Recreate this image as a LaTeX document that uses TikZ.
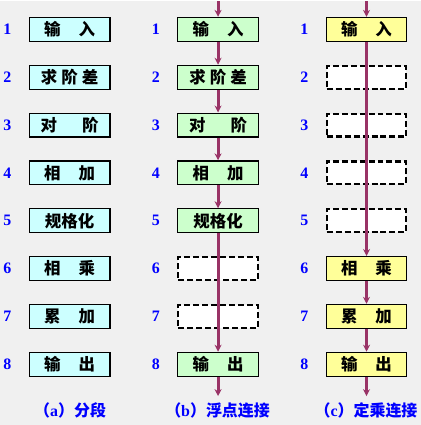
\documentclass[tikz,border=0pt]{standalone}
\usepackage{fontspec}
\setmainfont{Liberation Serif}
\newfontfamily\cjk{Noto Sans CJK SC}
\usetikzlibrary{arrows.meta}
\definecolor{bg}{HTML}{F0F0F0}
\definecolor{flow}{HTML}{993366}
\definecolor{segfill}{HTML}{CCFFFF}
\definecolor{fpfill}{HTML}{CCFFCC}
\definecolor{fixfill}{HTML}{FFFF99}

\begin{document}
\begin{tikzpicture}[x=1pt, y=-1pt, >={Stealth[length=7pt,width=7pt]},
    stage/.style={draw, line width=1.2pt, minimum width=81pt, minimum height=24pt, inner sep=0pt, font=\cjk\bfseries\fontsize{16.5}{16.5}\selectfont},
    idle/.style={draw, line width=2.2pt, dash pattern=on 6pt off 3pt, fill=white, minimum width=80pt, minimum height=23pt},
    num/.style={text=blue, font=\bfseries\fontsize{16}{16}\selectfont},
    caption/.style={text=blue, font=\bfseries\fontsize{16}{16}\selectfont},
    flowline/.style={->, flow, line width=3pt}]
        \fill[bg] (0,0) rectangle (422,425);

        % (a) segments
        \node[num] (anum1) at (7,28) {1};
        \node[num] (anum2) at (7,76) {2};
        \node[num] (anum3) at (7,124) {3};
        \node[num] (anum4) at (7,172) {4};
        \node[num] (anum5) at (7,220) {5};
        \node[num] (anum6) at (7,268) {6};
        \node[num] (anum7) at (7,316) {7};
        \node[num] (anum8) at (7,364) {8};
        \node[stage, fill=segfill] (a1) at (69.5,28) {输\hspace{18pt}入};
        \node[stage, fill=segfill] (a2) at (69.5,76) {求\hspace{4pt}阶\hspace{4pt}差};
        \node[stage, fill=segfill] (a3) at (69.5,124) {对\hspace{25pt}阶};
        \node[stage, fill=segfill] (a4) at (69.5,172) {相\hspace{18pt}加};
        \node[stage, fill=segfill] (a5) at (69.5,220) {规格化};
        \node[stage, fill=segfill] (a6) at (69.5,268) {相\hspace{18pt}乘};
        \node[stage, fill=segfill] (a7) at (69.5,316) {累\hspace{18pt}加};
        \node[stage, fill=segfill] (a8) at (69.5,364) {输\hspace{18pt}出};
        \node[caption] (capa) at (70,410) {{\cjk （}a{\cjk ）分段}};

        % (b) floating-point chain
        \node[num] (bnum1) at (156,28) {1};
        \node[num] (bnum2) at (156,76) {2};
        \node[num] (bnum3) at (156,124) {3};
        \node[num] (bnum4) at (156,172) {4};
        \node[num] (bnum5) at (156,220) {5};
        \node[num] (bnum6) at (156,268) {6};
        \node[num] (bnum7) at (156,316) {7};
        \node[num] (bnum8) at (156,364) {8};
        \node[stage, fill=fpfill] (b1) at (218.5,28) {输\hspace{18pt}入};
        \node[stage, fill=fpfill] (b2) at (218.5,76) {求\hspace{4pt}阶\hspace{4pt}差};
        \node[stage, fill=fpfill] (b3) at (218.5,124) {对\hspace{25pt}阶};
        \node[stage, fill=fpfill] (b4) at (218.5,172) {相\hspace{18pt}加};
        \node[stage, fill=fpfill] (b5) at (218.5,220) {规格化};
        \node[idle] (b6) at (218.5,268) {};
        \node[idle] (b7) at (218.5,316) {};
        \node[stage, fill=fpfill] (b8) at (218.5,364) {输\hspace{18pt}出};
        \node[caption] (capb) at (218,410) {{\cjk （}b{\cjk ）浮点连接}};
        \coordinate (btop) at (218.5,0);
        \coordinate (bend) at (218.5,396);
        \draw[flowline] (btop) -- (b1.north);
        \draw[flowline] (b1) -- (b2);
        \draw[flowline] (b2) -- (b3);
        \draw[flowline] (b3) -- (b4);
        \draw[flowline] (b4) -- (b5);
        \draw[flowline] (b5.south) -- (b8.north);
        \draw[flowline] (b8) -- (bend);

        % (c) fixed-point multiply chain
        \node[num] (cnum1) at (305,28) {1};
        \node[num] (cnum2) at (305,76) {2};
        \node[num] (cnum3) at (305,124) {3};
        \node[num] (cnum4) at (305,172) {4};
        \node[num] (cnum5) at (305,220) {5};
        \node[num] (cnum6) at (305,268) {6};
        \node[num] (cnum7) at (305,316) {7};
        \node[num] (cnum8) at (305,364) {8};
        \node[stage, fill=fixfill] (c1) at (367.5,28) {输\hspace{18pt}入};
        \node[idle] (c2) at (367.5,76) {};
        \node[idle] (c3) at (367.5,124) {};
        \node[idle] (c4) at (367.5,172) {};
        \node[idle] (c5) at (367.5,220) {};
        \node[stage, fill=fixfill] (c6) at (367.5,268) {相\hspace{18pt}乘};
        \node[stage, fill=fixfill] (c7) at (367.5,316) {累\hspace{18pt}加};
        \node[stage, fill=fixfill] (c8) at (367.5,364) {输\hspace{18pt}出};
        \node[caption] (capc) at (367,410) {{\cjk （}c{\cjk ）定乘连接}};
        \coordinate (ctop) at (367.5,0);
        \coordinate (cend) at (367.5,396);
        \draw[flowline] (ctop) -- (c1.north);
        \draw[flowline] (c1.south) -- (c6.north);
        \draw[flowline] (c6) -- (c7);
        \draw[flowline] (c7) -- (c8);
        \draw[flowline] (c8) -- (cend);
\end{tikzpicture}
\end{document}
